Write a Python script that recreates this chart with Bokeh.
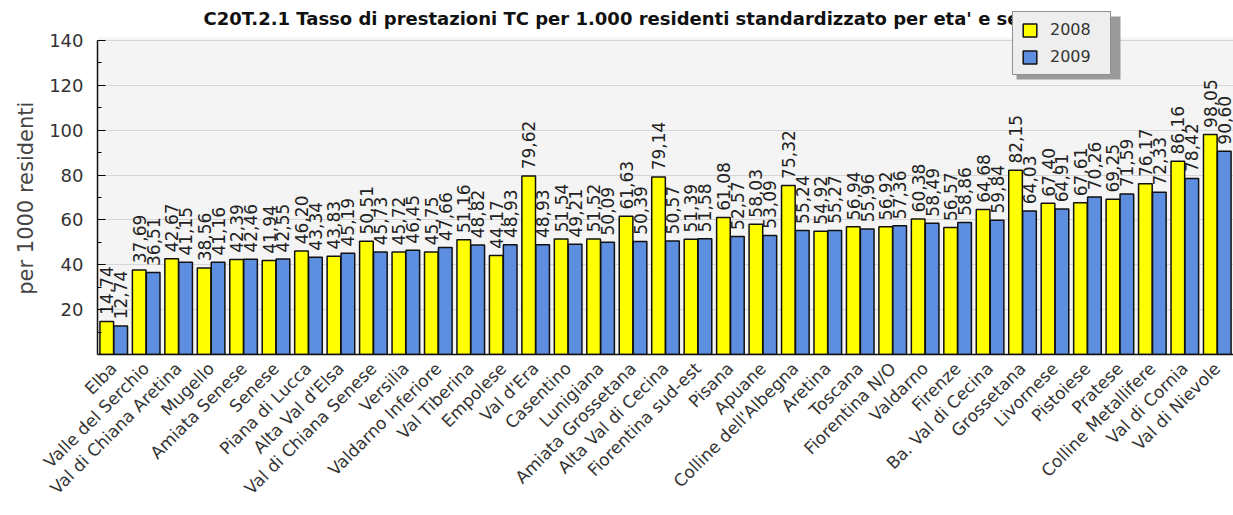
from math import pi
from bokeh.plotting import figure
from bokeh.models import (ColumnDataSource, FixedTicker, Legend, LegendItem, FactorRange,
                          Range1d, Label, BoxAnnotation)
from bokeh.transform import dodge
from bokeh.core.properties import value
from bokeh.embed import file_html
from bokeh.resources import INLINE

categories = ["Elba", "Valle del Serchio", "Val di Chiana Aretina", "Mugello", "Amiata Senese",
              "Senese", "Piana di Lucca", "Alta Val d'Elsa", "Val di Chiana Senese", "Versilia",
              "Valdarno Inferiore", "Val Tiberina", "Empolese", "Val d'Era", "Casentino",
              "Lunigiana", "Amiata Grossetana", "Alta Val di Cecina", "Fiorentina sud-est", "Pisana",
              "Apuane", "Colline dell'Albegna", "Aretina", "Toscana", "Fiorentina N/O",
              "Valdarno", "Firenze", "Ba. Val di Cecina", "Grossetana", "Livornese",
              "Pistoiese", "Pratese", "Colline Metallifere", "Val di Cornia", "Val di Nievole"]
y2008 = [14.74, 37.69, 42.67, 38.56, 42.39, 41.94, 46.20, 43.83, 50.51, 45.72,
         45.75, 51.16, 44.17, 79.62, 51.54, 51.52, 61.63, 79.14, 51.39, 61.08,
         58.03, 75.32, 54.92, 56.94, 56.92, 60.38, 56.57, 64.68, 82.15, 67.40,
         67.61, 69.25, 76.17, 86.16, 98.05]
y2009 = [12.74, 36.51, 41.15, 41.16, 42.46, 42.55, 43.34, 45.19, 45.73, 46.45,
         47.66, 48.82, 48.93, 48.93, 49.21, 50.09, 50.39, 50.57, 51.58, 52.57,
         53.09, 55.24, 55.27, 55.96, 57.36, 58.49, 58.86, 59.84, 64.03, 64.91,
         70.26, 71.59, 72.33, 78.42, 90.60]
series_names = ["2008", "2009"]
y_ticks = [20, 40, 60, 80, 100, 120, 140]
y_minor = [10, 30, 50, 70, 90, 110, 130]
title_text = "C20T.2.1 Tasso di prestazioni TC per 1.000 residenti standardizzato per eta' e sesso"
y_label = "per 1000 residenti"

YELLOW = "#FFFF00"
BLUE = "#5D8EE0"
Y_MAX = 140
Y_TOP = 154.27   # extra headroom (white) that holds title and legend

src = ColumnDataSource(dict(
    cat=categories, y2008=y2008, y2009=y2009,
    l2008=[f"{v:.2f}".replace(".", ",") for v in y2008],
    l2009=[f"{v:.2f}".replace(".", ",") for v in y2009],
))

p = figure(x_range=FactorRange(*categories, range_padding=0), y_range=Range1d(0, Y_TOP),
           width=1233, height=515, output_backend="svg", toolbar_location=None,
           min_border_left=97, min_border_right=0, min_border_top=8, min_border_bottom=161)
p.background_fill_color = "white"
p.border_fill_color = "white"
p.outline_line_color = None

# light gray plotting area (drawn beneath the grid lines)
plot_bg = BoxAnnotation(bottom=0, top=Y_MAX + 1.2, fill_color="#F4F4F4", fill_alpha=1.0,
                        line_color=None, level="underlay")
p.center = [plot_bg] + list(p.center)

r1 = p.vbar(x=dodge("cat", -0.215, range=p.x_range), top="y2008", width=0.42, source=src,
            fill_color=YELLOW, line_color="#111111", line_width=1.5)
r2 = p.vbar(x=dodge("cat", 0.215, range=p.x_range), top="y2009", width=0.42, source=src,
            fill_color=BLUE, line_color="#111111", line_width=1.5)

for off, col, lab in [(-0.215, "y2008", "l2008"), (0.215, "y2009", "l2009")]:
    p.text(x=dodge("cat", off, range=p.x_range), y=col, text=lab, source=src,
           angle=pi / 2, text_align="center", text_baseline="middle",
           x_offset=0, y_offset=-31, text_font=value("DejaVu Sans"),
           text_font_size="17px", text_color="#222222")

# axes
p.yaxis.ticker = FixedTicker(ticks=y_ticks, minor_ticks=y_minor)
p.yaxis.bounds = (0, Y_MAX)
p.yaxis.major_tick_in = 8
p.yaxis.major_tick_out = 0
p.yaxis.minor_tick_in = 4
p.yaxis.minor_tick_out = 0
p.yaxis.axis_line_color = "#111111"
p.yaxis.axis_line_width = 1.5
p.yaxis.major_label_standoff = 14
p.yaxis.major_label_text_font = "DejaVu Sans"
p.yaxis.major_label_text_font_size = "18px"
p.yaxis.major_label_text_color = "#333333"
p.yaxis.axis_label = y_label + "\u00a0" * 5
p.yaxis.axis_label_text_font = "DejaVu Sans"
p.yaxis.axis_label_text_font_size = "21px"
p.yaxis.axis_label_text_font_style = "normal"
p.yaxis.axis_label_text_color = "#444444"
p.yaxis.axis_label_standoff = 8

p.xaxis.major_label_orientation = pi / 4
p.xaxis.major_tick_line_color = None
p.xaxis.minor_tick_line_color = None
p.xaxis.axis_line_color = "#111111"
p.xaxis.axis_line_width = 1.5
p.xaxis.major_label_text_font = "DejaVu Sans"
p.xaxis.major_label_text_font_size = "17px"
p.xaxis.major_label_text_color = "#333333"
p.xaxis.major_label_standoff = 5

p.xgrid.grid_line_color = None
p.ygrid.grid_line_color = "#D6D6D6"
p.ygrid.grid_line_width = 1
p.ygrid.ticker = FixedTicker(ticks=y_ticks)

# title drawn inside the white headroom
p.add_layout(Label(x=0, y=149.8, x_offset=106, text=title_text,
                   text_font="DejaVu Sans", text_font_size="18px", text_font_style="bold",
                   text_color="#111111", text_baseline="middle", text_align="left"))

# drop shadow of the legend box (screen units relative to the plot frame)
p.add_layout(BoxAnnotation(left=919, right=1023, top=338, bottom=275,
                           left_units="screen", right_units="screen",
                           top_units="screen", bottom_units="screen",
                           fill_color="#9A9A9A", fill_alpha=1.0, line_color=None))

legend = Legend(items=[LegendItem(label=series_names[0], renderers=[r1]),
                       LegendItem(label=series_names[1], renderers=[r2])],
                location=(915, 279), orientation="vertical",
                background_fill_color="#EEEEEE", background_fill_alpha=1.0,
                border_line_color="#333333", border_line_width=1,
                glyph_width=17, glyph_height=16, label_height=16, label_width=52,
                spacing=8, padding=8, label_standoff=12, margin=0,
                label_text_font="DejaVu Sans", label_text_font_size="16px",
                label_text_color="#333333")
p.add_layout(legend, "center")

open("out.html", "w").write(file_html(p, INLINE))
